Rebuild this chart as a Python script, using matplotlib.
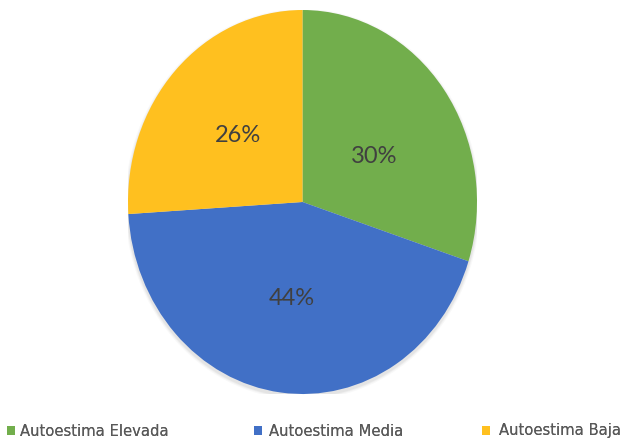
import numpy as np
import matplotlib
matplotlib.use("Agg")
import matplotlib.pyplot as plt
from matplotlib.patches import Ellipse

categories = ["Autoestima Elevada", "Autoestima Media", "Autoestima Baja"]
values = [30, 44, 26]
colors = ["#72AE4C", "#4170C6", "#FFC01F"]

plt.rcParams["font.family"] = ["Lato", "DejaVu Sans"]

W, H = 626, 442
fig = plt.figure(figsize=(W / 100, H / 100), dpi=100)
# stretched pie: axes box is taller than wide, aspect left free
ax = fig.add_axes([128 / W, 1 - 394 / H, 349 / W, 384 / H])

# soft drop shadow under the pie
for k, a in [(0.035, 0.05), (0.022, 0.07), (0.012, 0.09)]:
    ax.add_patch(Ellipse((0, -0.012), 2 + k, 2 + k, facecolor="#808080",
                         edgecolor="none", alpha=a, zorder=0))

wedges, texts, autotexts = ax.pie(
    values,
    colors=colors,
    startangle=90,
    counterclock=False,
    autopct=lambda p: f"{p:.0f}%",
    pctdistance=0.505,
    radius=1.0,
    wedgeprops=dict(linewidth=0, zorder=2),
    textprops=dict(color="#404040", fontsize=17),
)
# the first label sits a little lower inside its wedge
x0, y0 = autotexts[0].get_position()
autotexts[0].set_position((x0 * 1.0, y0 * 0.8))
for t in autotexts:
    t.set_zorder(3)

ax.set_aspect("auto")
ax.set_xlim(-1.0, 1.0)
ax.set_ylim(-1.0, 1.0)
ax.axis("off")

# legend entries laid out along the bottom edge
legend_x = [7 / W, 254 / W, 482 / W]
legend_pad = [0.3, 0.45, 0.6]
for w, lab, lx, pad in zip(wedges, categories, legend_x, legend_pad):
    leg = fig.legend(
        [w], [lab],
        loc="center left",
        bbox_to_anchor=(lx, 1 - 431 / H),
        frameon=False,
        prop=dict(family="DejaVu Sans", size=10.6),
        handlelength=0.55,
        handleheight=0.6,
        handletextpad=pad,
        borderpad=0,
        borderaxespad=0,
        labelcolor="#595959",
    )
    fig.add_artist(leg)

fig.savefig("out.png", dpi=100)
